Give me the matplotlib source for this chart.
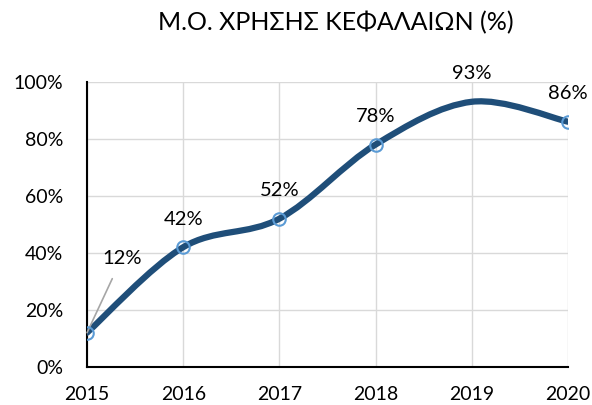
import matplotlib
matplotlib.use("Agg")
from matplotlib import pyplot as plt
from matplotlib.path import Path
from matplotlib.patches import PathPatch

years = [2015, 2016, 2017, 2018, 2019, 2020]
values = [12, 42, 52, 78, 93, 86]
labels = ["12%", "42%", "52%", "78%", "93%", "86%"]
yticks = [0, 20, 40, 60, 80, 100]

LINE = "#1F4E79"
MARK = "#5B9BD5"


def smooth_path(xs, ys):
    """Bezier path through the points, Catmull-Rom style like Excel's smoothed line"""
    verts = [(xs[0], ys[0])]
    codes = [Path.MOVETO]
    n = len(xs)
    for i in range(n - 1):
        x0, y0 = (xs[i - 1], ys[i - 1]) if i > 0 else (xs[i], ys[i])
        x1, y1 = xs[i], ys[i]
        x2, y2 = xs[i + 1], ys[i + 1]
        x3, y3 = (xs[i + 2], ys[i + 2]) if i + 2 < n else (x2, y2)
        c1 = (x1 + (x2 - x0) / 6, y1 + (y2 - y0) / 6)
        c2 = (x2 - (x3 - x1) / 6, y2 - (y3 - y1) / 6)
        verts += [c1, c2, (x2, y2)]
        codes += [Path.CURVE4] * 3
    return Path(verts, codes)


plt.rcParams["font.family"] = ["Lato", "DejaVu Sans"]

fig = plt.figure(figsize=(5.92, 4.05), dpi=100)
ax = fig.add_axes([0.147, 0.094, 0.8125, 0.704])

ax.add_patch(PathPatch(smooth_path(years, values), facecolor="none",
                       edgecolor=LINE, linewidth=4.5, capstyle="round", zorder=3))
# the 2019 marker is hidden in the reference
mx = [y for y in years if y != 2019]
my = [v for y, v in zip(years, values) if y != 2019]
ax.plot(mx, my, linestyle="none", marker="o", markersize=9,
        markerfacecolor="none", markeredgecolor=MARK, markeredgewidth=1.5, zorder=4)

for x, v, t in zip(years, values, labels):
    if x == 2015:
        ax.annotate(t, xy=(x, v), xytext=(x + 0.36, v + 26), ha="center", va="center",
                    fontsize=14.5,
                    arrowprops=dict(arrowstyle="-", color="#A6A6A6", lw=1.2,
                                    shrinkA=7, shrinkB=0))
    else:
        ax.annotate(t, xy=(x, v), xytext=(0, 14), textcoords="offset points",
                    ha="center", va="bottom", fontsize=14.5)

ax.set_xlim(2015, 2020)
ax.set_ylim(0, 100)
ax.set_xticks(years)
ax.set_xticklabels([str(y) for y in years])
ax.set_yticks(yticks)
ax.set_yticklabels([f"{t}%" for t in yticks])
ax.tick_params(axis="y", length=0, pad=17, labelsize=14)
ax.tick_params(axis="x", length=0, pad=14, labelsize=14)
ax.grid(True, color="#D9D9D9", linewidth=1)
ax.set_axisbelow(True)
for s in ["top", "right"]:
    ax.spines[s].set_visible(False)
for s in ["left", "bottom"]:
    ax.spines[s].set_color("black")
    ax.spines[s].set_linewidth(1.5)
    ax.spines[s].set_zorder(2)

fig.text(0.568, 0.945, "Μ.Ο. ΧΡΗΣΗΣ ΚΕΦΑΛΑΙΩΝ (%)", ha="center", va="center", fontsize=18)

fig.savefig("out.png", dpi=100)
